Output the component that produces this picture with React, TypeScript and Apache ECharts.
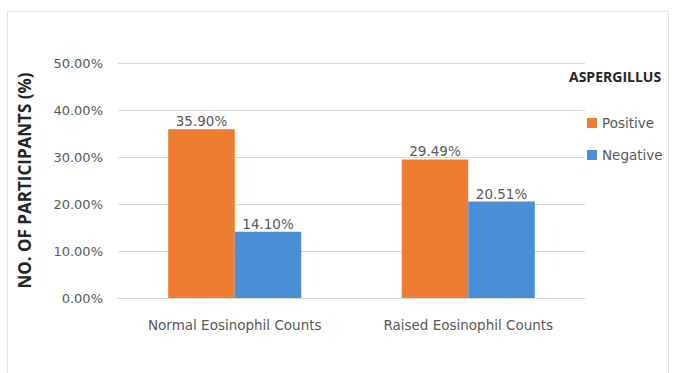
import React, { useEffect, useRef } from "react";
import * as echarts from "echarts";

const categories = ["Normal Eosinophil Counts", "Raised Eosinophil Counts"];
const positiveValues = [35.9, 29.49];
const negativeValues = [14.1, 20.51];
const seriesNames = ["Positive", "Negative"];
const legendTitle = "ASPERGILLUS";
const yAxisTitle = "NO. OF PARTICIPANTS (%)";

const FONT = "'DejaVu Sans', sans-serif";
const BOLD_FONT = "'Open Sans', 'Noto Sans', sans-serif";

export default function App() {
  const ref = useRef<HTMLDivElement>(null);

  useEffect(() => {
    document.body.style.margin = "0";
    const chart = echarts.init(ref.current!, null, { renderer: "svg" });
    const label = {
      show: true,
      position: "top" as const,
      distance: 1,
      color: "#595959",
      fontFamily: FONT,
      fontSize: 13.5,
      formatter: (p: any) => `${Number(p.value).toFixed(2)}%`,
    };
    chart.setOption({
      animation: false,
      backgroundColor: "#ffffff",
      graphic: [
        {
          type: "rect",
          shape: { x: 7.5, y: 11.5, width: 661, height: 370 },
          style: { fill: "none", stroke: "#e4e4e4", lineWidth: 1 },
          silent: true,
        },
        {
          type: "text",
          left: 569,
          top: 69,
          style: {
            text: legendTitle,
            fontFamily: BOLD_FONT,
            fontWeight: "bold",
            fontSize: 14,
            fill: "#262626",
          },
        },
      ],
      grid: { left: 118, right: 90, top: 63, bottom: 75, containLabel: false },
      legend: {
        orient: "vertical",
        left: 582,
        top: 111,
        itemWidth: 10,
        itemHeight: 10,
        itemGap: 18,
        icon: "rect",
        textStyle: { color: "#595959", fontFamily: FONT, fontSize: 13.5 },
        data: seriesNames,
      },
      xAxis: {
        type: "category",
        data: categories,
        axisLine: { lineStyle: { color: "#d9d9d9" } },
        axisTick: { show: false },
        axisLabel: {
          color: "#595959",
          fontFamily: FONT,
          fontSize: 13.5,
          margin: 20,
        },
      },
      yAxis: {
        type: "value",
        min: 0,
        max: 50,
        interval: 10,
        name: yAxisTitle,
        nameLocation: "middle",
        nameGap: 85,
        nameRotate: 90,
        nameTextStyle: {
          color: "#262626",
          fontFamily: BOLD_FONT,
          fontWeight: "bold",
          fontSize: 17,
        },
        axisLine: { show: false },
        axisTick: { show: false },
        axisLabel: {
          color: "#595959",
          fontFamily: FONT,
          fontSize: 13,
          margin: 15,
          formatter: (v: number) => `${v.toFixed(2)}%`,
        },
        splitLine: { lineStyle: { color: "#d9d9d9" } },
      },
      series: [
        {
          name: seriesNames[0],
          type: "bar",
          data: positiveValues,
          barGap: "0%",
          barCategoryGap: "43%",
          itemStyle: { color: "#ed7d31" },
          label,
        },
        {
          name: seriesNames[1],
          type: "bar",
          data: negativeValues,
          itemStyle: { color: "#4a8fd6" },
          label,
        },
      ],
    });
    return () => chart.dispose();
  }, []);

  return <div ref={ref} style={{ width: 675, height: 373 }} />;
}
